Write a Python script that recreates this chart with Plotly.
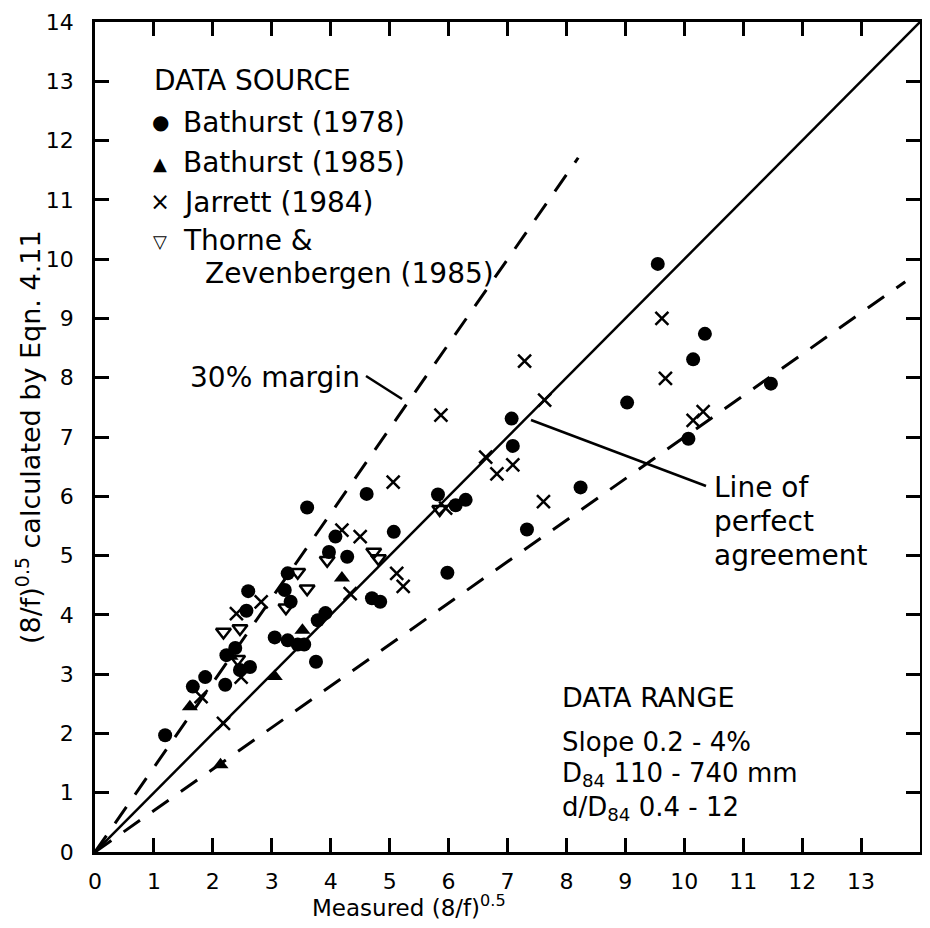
import plotly.graph_objects as go

# ---------------- data ----------------
b78_x = [1.19, 1.66, 1.87, 2.21, 2.23, 2.38, 2.46, 2.63, 2.60, 2.57, 3.05, 3.27, 3.22, 3.32,
         3.27, 3.44, 3.55, 3.75, 3.78, 3.91, 3.60, 4.08, 3.97, 4.28, 4.61, 4.70, 4.84, 5.07,
         5.82, 6.12, 6.29, 5.98, 7.07, 7.09, 7.33, 8.24, 9.03, 9.55, 10.15, 10.35, 10.07, 11.47]
b78_y = [1.97, 2.79, 2.95, 2.82, 3.32, 3.44, 3.07, 3.12, 4.40, 4.07, 3.62, 4.70, 4.42, 4.22,
         3.57, 3.50, 3.50, 3.21, 3.91, 4.03, 5.81, 5.32, 5.06, 4.98, 6.04, 4.28, 4.22, 5.40,
         6.03, 5.85, 5.94, 4.71, 7.31, 6.85, 5.44, 6.15, 7.58, 9.92, 8.31, 8.74, 6.97, 7.90]

b85_x = [1.61, 2.13, 3.05, 3.52, 4.19, 2.30]
b85_y = [2.45, 1.47, 2.96, 3.74, 4.62, 3.30]

jar_x = [1.80, 2.18, 2.48, 2.40, 2.82, 4.19, 4.50, 5.06, 5.87, 5.95, 4.33, 5.12, 5.23,
         6.63, 6.82, 7.09, 7.29, 7.63, 7.61, 9.62, 9.68, 10.15, 10.32]
jar_y = [2.62, 2.17, 2.95, 4.02, 4.22, 5.43, 5.32, 6.24, 7.37, 5.80, 4.36, 4.70, 4.48,
         6.66, 6.38, 6.53, 8.28, 7.62, 5.91, 9.00, 7.99, 7.28, 7.43]

tz_x = [2.18, 2.46, 2.42, 3.44, 3.60, 3.24, 3.94, 4.73, 4.81, 5.85]
tz_y = [3.71, 3.77, 3.25, 4.72, 4.44, 4.12, 4.92, 5.06, 4.95, 5.78]

perfect_x = [0, 14]
perfect_y = [0, 14]
upper_x = [0, 8.2]
upper_y = [0, 11.71]
lower_x = [0, 13.75]
lower_y = [0, 9.62]

ticks = list(range(0, 15))

# ---------------- figure ----------------
FONT = "DejaVu Sans"
fig = go.Figure()

fig.add_trace(go.Scatter(x=perfect_x, y=perfect_y, mode="lines",
                         line=dict(color="black", width=2.5), showlegend=False))
for xs, ys in [(upper_x, upper_y), (lower_x, lower_y)]:
    fig.add_trace(go.Scatter(x=xs, y=ys, mode="lines",
                             line=dict(color="black", width=3, dash="20px,15px"),
                             showlegend=False))

fig.add_trace(go.Scatter(x=b78_x, y=b78_y, mode="markers", showlegend=False,
                         marker=dict(symbol="circle", size=14, color="black")))
fig.add_trace(go.Scatter(x=b85_x, y=b85_y, mode="markers", showlegend=False,
                         marker=dict(symbol="triangle-up", size=14, color="black")))
fig.add_trace(go.Scatter(x=jar_x, y=jar_y, mode="markers", showlegend=False,
                         marker=dict(symbol="x-thin-open", size=13, color="black",
                                     line=dict(color="black", width=2.5))))
fig.add_trace(go.Scatter(x=tz_x, y=tz_y, mode="markers", showlegend=False,
                         marker=dict(symbol="triangle-down-open", size=13, color="black",
                                     line=dict(color="black", width=2.5))))

# page offset from the default 8px body margin of the html page
OFF = 8
FIG_W, FIG_H = 914, 912
# plot area in page pixels
L, R, T, B = 95, 920, 22, 852
W, H = R - L, B - T


def px(x):
    return (x - L) / W


def py(y):
    return (B - y) / H


annos = []


def txt(text, x, y, size=28, xanchor="left", angle=0):
    annos.append(dict(text=text, x=px(x), y=py(y), xref="paper", yref="paper",
                      xanchor=xanchor, yanchor="middle", showarrow=False,
                      textangle=angle, font=dict(family=FONT, size=size, color="black")))


txt("DATA SOURCE", 152, 80)
txt("●", 160, 122, size=20, xanchor="center")
txt("▲", 160, 163, size=18, xanchor="center")
txt("×", 160, 202, size=24, xanchor="center")
txt("▽", 160, 241, size=18, xanchor="center")
txt("Bathurst (1978)", 181, 122)
txt("Bathurst (1985)", 181, 162)
txt("Jarrett (1984)", 181, 202)
txt("Thorne &amp;", 181, 240)
txt("Zevenbergen (1985)", 203, 273)
txt("30% margin", 362, 377, xanchor="right")
txt("Line of", 712, 487)
txt("perfect", 712, 521)
txt("agreement", 712, 555)
txt("DATA RANGE", 560, 697, size=27)
txt("Slope 0.2 - 4%", 560, 742, size=26)
txt("D<sub>84</sub> 110 - 740 mm", 560, 774, size=26)
txt("d/D<sub>84</sub> 0.4 - 12", 560, 808, size=26)
txt("Measured (8/f)<sup>0.5</sup>", 409, 906, size=23, xanchor="center")
txt("(8/f)<sup>0.5</sup> calculated by Eqn. 4.11", 28, 437, size=27, xanchor="center", angle=-90)

fig.update_layout(annotations=annos)

# leader lines (annotation furniture), positions given in page pixels
SX, SY = W / 14.0, H / 14.0
fig.add_shape(type="line", xref="x", yref="y", x0=(366 - L) / SX, y0=(B - 376) / SY,
              x1=(402 - L) / SX, y1=(B - 399) / SY, line=dict(color="black", width=2.5))
fig.add_shape(type="line", xref="x", yref="y", x0=(531 - L) / SX, y0=(B - 420) / SY,
              x1=(706 - L) / SX, y1=(B - 486) / SY, line=dict(color="black", width=2.5))

axis_common = dict(range=[0, 14], tickvals=ticks, ticktext=[str(t) for t in ticks],
                   ticks="inside", ticklen=14, tickwidth=2.5, tickcolor="black",
                   showline=True, linecolor="black", linewidth=2.5, mirror="ticks",
                   showgrid=False, zeroline=False, automargin=False,
                   tickfont=dict(family=FONT, size=22, color="black"))

fig.update_xaxes(**axis_common, ticklabelstandoff=8)
fig.update_yaxes(**axis_common, ticklabelstandoff=14)

fig.update_layout(width=FIG_W, height=FIG_H,
                  margin=dict(l=L - OFF, r=FIG_W - (R - OFF), t=T - OFF, b=FIG_H - (B - OFF)),
                  paper_bgcolor="white", plot_bgcolor="white", showlegend=False)

fig.write_html("out.html")
